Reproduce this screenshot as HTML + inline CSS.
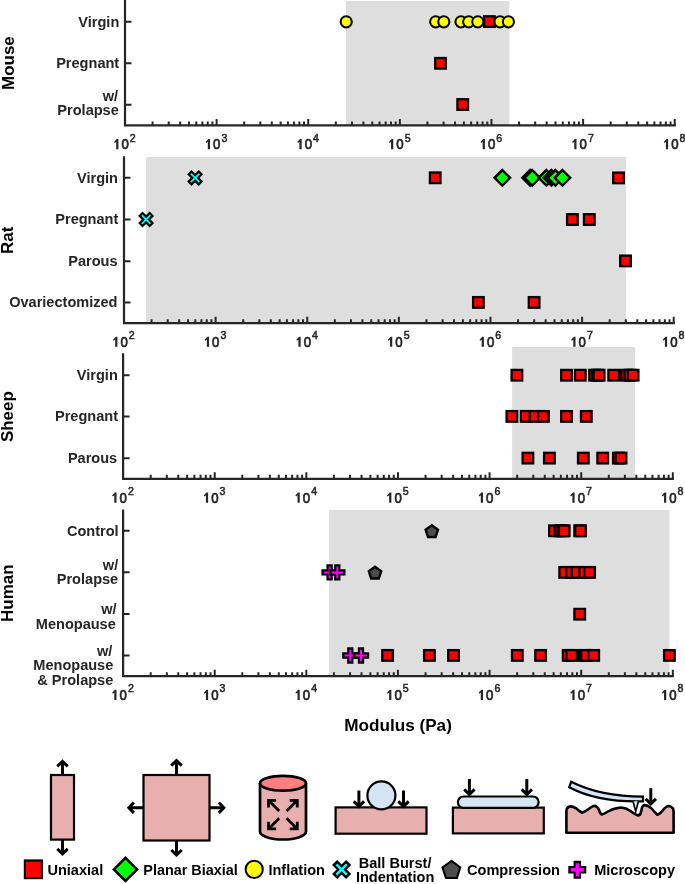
<!DOCTYPE html>
<html><head><meta charset="utf-8"><style>html,body{margin:0;padding:0;background:#fff;}svg{display:block;will-change:transform;}text{font-family:"Liberation Sans",sans-serif;}</style></head>
<body>
<svg width="685" height="884" viewBox="0 0 685 884" font-family="Liberation Sans, sans-serif">
<rect width="685" height="884" fill="#fff"/>
<rect x="346" y="1" width="163.3" height="124.4" fill="#dedede"/>
<path d="M125 0V126.5M123.9 125.4H675.82" stroke="#262626" stroke-width="2.2" fill="none"/>
<path d="M125 21.7h6.5M125 63.3h6.5M125 104.7h6.5M152.58 125.4v-4M168.71 125.4v-4M180.16 125.4v-4M189.04 125.4v-4M196.29 125.4v-4M202.43 125.4v-4M207.74 125.4v-4M212.43 125.4v-4M216.62 125.4v-6.5M244.20 125.4v-4M260.33 125.4v-4M271.78 125.4v-4M280.66 125.4v-4M287.91 125.4v-4M294.05 125.4v-4M299.36 125.4v-4M304.05 125.4v-4M308.24 125.4v-6.5M335.82 125.4v-4M351.95 125.4v-4M363.40 125.4v-4M372.28 125.4v-4M379.53 125.4v-4M385.67 125.4v-4M390.98 125.4v-4M395.67 125.4v-4M399.86 125.4v-6.5M427.44 125.4v-4M443.57 125.4v-4M455.02 125.4v-4M463.90 125.4v-4M471.15 125.4v-4M477.29 125.4v-4M482.60 125.4v-4M487.29 125.4v-4M491.48 125.4v-6.5M519.06 125.4v-4M535.19 125.4v-4M546.64 125.4v-4M555.52 125.4v-4M562.77 125.4v-4M568.91 125.4v-4M574.22 125.4v-4M578.91 125.4v-4M583.10 125.4v-6.5M610.68 125.4v-4M626.81 125.4v-4M638.26 125.4v-4M647.14 125.4v-4M654.39 125.4v-4M660.53 125.4v-4M665.84 125.4v-4M670.53 125.4v-4M674.72 125.4v-6.5" stroke="#262626" stroke-width="2" fill="none"/>
<polygon points="118.40,149.20 118.40,139.10 116.80,139.10 114.00,142.10 114.90,143.10 116.20,141.80 116.20,149.20" fill="#262626"/>
<text transform="translate(125.15,149.2) scale(0.88,1)" font-size="15" text-anchor="middle" fill="#262626" stroke="#262626" stroke-width="0.75">0</text>
<text transform="translate(129.80,141.70) scale(0.9,1)" font-size="11.8" text-anchor="start" fill="#262626" stroke="#262626" stroke-width="0.55">2</text>
<polygon points="210.02,149.20 210.02,139.10 208.42,139.10 205.62,142.10 206.52,143.10 207.82,141.80 207.82,149.20" fill="#262626"/>
<text transform="translate(216.77,149.2) scale(0.88,1)" font-size="15" text-anchor="middle" fill="#262626" stroke="#262626" stroke-width="0.75">0</text>
<text transform="translate(221.42,141.70) scale(0.9,1)" font-size="11.8" text-anchor="start" fill="#262626" stroke="#262626" stroke-width="0.55">3</text>
<polygon points="301.64,149.20 301.64,139.10 300.04,139.10 297.24,142.10 298.14,143.10 299.44,141.80 299.44,149.20" fill="#262626"/>
<text transform="translate(308.39,149.2) scale(0.88,1)" font-size="15" text-anchor="middle" fill="#262626" stroke="#262626" stroke-width="0.75">0</text>
<text transform="translate(313.04,141.70) scale(0.9,1)" font-size="11.8" text-anchor="start" fill="#262626" stroke="#262626" stroke-width="0.55">4</text>
<polygon points="393.26,149.20 393.26,139.10 391.66,139.10 388.86,142.10 389.76,143.10 391.06,141.80 391.06,149.20" fill="#262626"/>
<text transform="translate(400.01,149.2) scale(0.88,1)" font-size="15" text-anchor="middle" fill="#262626" stroke="#262626" stroke-width="0.75">0</text>
<text transform="translate(404.66,141.70) scale(0.9,1)" font-size="11.8" text-anchor="start" fill="#262626" stroke="#262626" stroke-width="0.55">5</text>
<polygon points="484.88,149.20 484.88,139.10 483.28,139.10 480.48,142.10 481.38,143.10 482.68,141.80 482.68,149.20" fill="#262626"/>
<text transform="translate(491.63,149.2) scale(0.88,1)" font-size="15" text-anchor="middle" fill="#262626" stroke="#262626" stroke-width="0.75">0</text>
<text transform="translate(496.28,141.70) scale(0.9,1)" font-size="11.8" text-anchor="start" fill="#262626" stroke="#262626" stroke-width="0.55">6</text>
<polygon points="576.50,149.20 576.50,139.10 574.90,139.10 572.10,142.10 573.00,143.10 574.30,141.80 574.30,149.20" fill="#262626"/>
<text transform="translate(583.25,149.2) scale(0.88,1)" font-size="15" text-anchor="middle" fill="#262626" stroke="#262626" stroke-width="0.75">0</text>
<text transform="translate(587.90,141.70) scale(0.9,1)" font-size="11.8" text-anchor="start" fill="#262626" stroke="#262626" stroke-width="0.55">7</text>
<polygon points="668.12,149.20 668.12,139.10 666.52,139.10 663.72,142.10 664.62,143.10 665.92,141.80 665.92,149.20" fill="#262626"/>
<text transform="translate(674.87,149.2) scale(0.88,1)" font-size="15" text-anchor="middle" fill="#262626" stroke="#262626" stroke-width="0.75">0</text>
<text transform="translate(679.52,141.70) scale(0.9,1)" font-size="11.8" text-anchor="start" fill="#262626" stroke="#262626" stroke-width="0.55">8</text>
<text transform="translate(119.3,26.8) scale(1.04,1)" font-size="14" text-anchor="end" font-weight="bold" fill="#262626" >Virgin</text>
<text transform="translate(119.2,68.2) scale(1.04,1)" font-size="14" text-anchor="end" font-weight="bold" fill="#262626" >Pregnant</text>
<text transform="translate(118.0,101.0) scale(1.04,1)" font-size="14" text-anchor="end" font-weight="bold" fill="#262626" >w/</text>
<text transform="translate(118.8,114.8) scale(1.04,1)" font-size="14" text-anchor="end" font-weight="bold" fill="#262626" >Prolapse</text>
<text transform="translate(14.2,63.1) rotate(-90)" font-size="17" text-anchor="middle" font-weight="bold" fill="#000">Mouse</text>
<circle cx="346.20" cy="21.85" r="5.6" fill="#ffff00" stroke="#000" stroke-width="2.05"/>
<circle cx="435.70" cy="21.85" r="5.6" fill="#ffff00" stroke="#000" stroke-width="2.05"/>
<circle cx="443.80" cy="21.85" r="5.6" fill="#ffff00" stroke="#000" stroke-width="2.05"/>
<circle cx="461.00" cy="21.85" r="5.6" fill="#ffff00" stroke="#000" stroke-width="2.05"/>
<circle cx="468.70" cy="21.85" r="5.6" fill="#ffff00" stroke="#000" stroke-width="2.05"/>
<circle cx="477.80" cy="21.85" r="5.6" fill="#ffff00" stroke="#000" stroke-width="2.05"/>
<rect x="484.10" y="16.30" width="10.6" height="10.6" fill="#ff0000" stroke="#000" stroke-width="2.3"/>
<circle cx="500.00" cy="21.85" r="5.6" fill="#ffff00" stroke="#000" stroke-width="2.05"/>
<circle cx="508.40" cy="21.85" r="5.6" fill="#ffff00" stroke="#000" stroke-width="2.05"/>
<rect x="435.20" y="58.00" width="10.6" height="10.6" fill="#ff0000" stroke="#000" stroke-width="2.3"/>
<rect x="457.40" y="99.20" width="10.6" height="10.6" fill="#ff0000" stroke="#000" stroke-width="2.3"/>
<rect x="146" y="157" width="479.9" height="166.2" fill="#dedede"/>
<path d="M124 156.3V324.3M122.9 323.2H674.82" stroke="#262626" stroke-width="2.2" fill="none"/>
<path d="M124 177.8h6.5M124 219.5h6.5M124 261.2h6.5M124 302.4h6.5M151.58 323.2v-4M167.71 323.2v-4M179.16 323.2v-4M188.04 323.2v-4M195.29 323.2v-4M201.43 323.2v-4M206.74 323.2v-4M211.43 323.2v-4M215.62 323.2v-6.5M243.20 323.2v-4M259.33 323.2v-4M270.78 323.2v-4M279.66 323.2v-4M286.91 323.2v-4M293.05 323.2v-4M298.36 323.2v-4M303.05 323.2v-4M307.24 323.2v-6.5M334.82 323.2v-4M350.95 323.2v-4M362.40 323.2v-4M371.28 323.2v-4M378.53 323.2v-4M384.67 323.2v-4M389.98 323.2v-4M394.67 323.2v-4M398.86 323.2v-6.5M426.44 323.2v-4M442.57 323.2v-4M454.02 323.2v-4M462.90 323.2v-4M470.15 323.2v-4M476.29 323.2v-4M481.60 323.2v-4M486.29 323.2v-4M490.48 323.2v-6.5M518.06 323.2v-4M534.19 323.2v-4M545.64 323.2v-4M554.52 323.2v-4M561.77 323.2v-4M567.91 323.2v-4M573.22 323.2v-4M577.91 323.2v-4M582.10 323.2v-6.5M609.68 323.2v-4M625.81 323.2v-4M637.26 323.2v-4M646.14 323.2v-4M653.39 323.2v-4M659.53 323.2v-4M664.84 323.2v-4M669.53 323.2v-4M673.72 323.2v-6.5" stroke="#262626" stroke-width="2" fill="none"/>
<polygon points="117.40,346.80 117.40,336.70 115.80,336.70 113.00,339.70 113.90,340.70 115.20,339.40 115.20,346.80" fill="#262626"/>
<text transform="translate(124.15,346.8) scale(0.88,1)" font-size="15" text-anchor="middle" fill="#262626" stroke="#262626" stroke-width="0.75">0</text>
<text transform="translate(128.80,339.30) scale(0.9,1)" font-size="11.8" text-anchor="start" fill="#262626" stroke="#262626" stroke-width="0.55">2</text>
<polygon points="209.02,346.80 209.02,336.70 207.42,336.70 204.62,339.70 205.52,340.70 206.82,339.40 206.82,346.80" fill="#262626"/>
<text transform="translate(215.77,346.8) scale(0.88,1)" font-size="15" text-anchor="middle" fill="#262626" stroke="#262626" stroke-width="0.75">0</text>
<text transform="translate(220.42,339.30) scale(0.9,1)" font-size="11.8" text-anchor="start" fill="#262626" stroke="#262626" stroke-width="0.55">3</text>
<polygon points="300.64,346.80 300.64,336.70 299.04,336.70 296.24,339.70 297.14,340.70 298.44,339.40 298.44,346.80" fill="#262626"/>
<text transform="translate(307.39,346.8) scale(0.88,1)" font-size="15" text-anchor="middle" fill="#262626" stroke="#262626" stroke-width="0.75">0</text>
<text transform="translate(312.04,339.30) scale(0.9,1)" font-size="11.8" text-anchor="start" fill="#262626" stroke="#262626" stroke-width="0.55">4</text>
<polygon points="392.26,346.80 392.26,336.70 390.66,336.70 387.86,339.70 388.76,340.70 390.06,339.40 390.06,346.80" fill="#262626"/>
<text transform="translate(399.01,346.8) scale(0.88,1)" font-size="15" text-anchor="middle" fill="#262626" stroke="#262626" stroke-width="0.75">0</text>
<text transform="translate(403.66,339.30) scale(0.9,1)" font-size="11.8" text-anchor="start" fill="#262626" stroke="#262626" stroke-width="0.55">5</text>
<polygon points="483.88,346.80 483.88,336.70 482.28,336.70 479.48,339.70 480.38,340.70 481.68,339.40 481.68,346.80" fill="#262626"/>
<text transform="translate(490.63,346.8) scale(0.88,1)" font-size="15" text-anchor="middle" fill="#262626" stroke="#262626" stroke-width="0.75">0</text>
<text transform="translate(495.28,339.30) scale(0.9,1)" font-size="11.8" text-anchor="start" fill="#262626" stroke="#262626" stroke-width="0.55">6</text>
<polygon points="575.50,346.80 575.50,336.70 573.90,336.70 571.10,339.70 572.00,340.70 573.30,339.40 573.30,346.80" fill="#262626"/>
<text transform="translate(582.25,346.8) scale(0.88,1)" font-size="15" text-anchor="middle" fill="#262626" stroke="#262626" stroke-width="0.75">0</text>
<text transform="translate(586.90,339.30) scale(0.9,1)" font-size="11.8" text-anchor="start" fill="#262626" stroke="#262626" stroke-width="0.55">7</text>
<polygon points="667.12,346.80 667.12,336.70 665.52,336.70 662.72,339.70 663.62,340.70 664.92,339.40 664.92,346.80" fill="#262626"/>
<text transform="translate(673.87,346.8) scale(0.88,1)" font-size="15" text-anchor="middle" fill="#262626" stroke="#262626" stroke-width="0.75">0</text>
<text transform="translate(678.52,339.30) scale(0.9,1)" font-size="11.8" text-anchor="start" fill="#262626" stroke="#262626" stroke-width="0.55">8</text>
<text transform="translate(118.0,182.5) scale(1.04,1)" font-size="14" text-anchor="end" font-weight="bold" fill="#262626" >Virgin</text>
<text transform="translate(118.3,224.2) scale(1.04,1)" font-size="14" text-anchor="end" font-weight="bold" fill="#262626" >Pregnant</text>
<text transform="translate(117.6,266) scale(1.04,1)" font-size="14" text-anchor="end" font-weight="bold" fill="#262626" >Parous</text>
<text transform="translate(117.5,307.4) scale(1.04,1)" font-size="14" text-anchor="end" font-weight="bold" fill="#262626" >Ovariectomized</text>
<text transform="translate(13.0,240.4) rotate(-90)" font-size="17" text-anchor="middle" font-weight="bold" fill="#000">Rat</text>
<path d="M189.30 172.10L200.90 183.70M200.90 172.10L189.30 183.70" stroke="#000" stroke-width="6.2"/>
<path d="M190.80 173.60L199.40 182.20M199.40 173.60L190.80 182.20" stroke="#00ffff" stroke-width="1.7"/>
<path d="M140.30 213.70L151.90 225.30M151.90 213.70L140.30 225.30" stroke="#000" stroke-width="6.2"/>
<path d="M141.80 215.20L150.40 223.80M150.40 215.20L141.80 223.80" stroke="#00ffff" stroke-width="1.7"/>
<rect x="429.90" y="172.50" width="10.6" height="10.6" fill="#ff0000" stroke="#000" stroke-width="2.3"/>
<polygon points="502.30,170.05 510.05,177.80 502.30,185.55 494.55,177.80" fill="#00ff00" stroke="#000" stroke-width="2.45" stroke-linejoin="miter"/>
<polygon points="530.10,170.05 537.85,177.80 530.10,185.55 522.35,177.80" fill="#00ff00" stroke="#000" stroke-width="2.45" stroke-linejoin="miter"/>
<polygon points="532.20,170.05 539.95,177.80 532.20,185.55 524.45,177.80" fill="#00ff00" stroke="#000" stroke-width="2.45" stroke-linejoin="miter"/>
<polygon points="546.40,170.05 554.15,177.80 546.40,185.55 538.65,177.80" fill="#00ff00" stroke="#000" stroke-width="2.45" stroke-linejoin="miter"/>
<polygon points="551.40,170.05 559.15,177.80 551.40,185.55 543.65,177.80" fill="#0a000a" stroke="#000" stroke-width="2.45" stroke-linejoin="miter"/>
<polygon points="555.40,170.05 563.15,177.80 555.40,185.55 547.65,177.80" fill="#00ff00" stroke="#000" stroke-width="2.45" stroke-linejoin="miter"/>
<polygon points="562.40,170.05 570.15,177.80 562.40,185.55 554.65,177.80" fill="#00ff00" stroke="#000" stroke-width="2.45" stroke-linejoin="miter"/>
<rect x="613.20" y="172.60" width="10.6" height="10.6" fill="#ff0000" stroke="#000" stroke-width="2.3"/>
<rect x="567.10" y="214.20" width="10.6" height="10.6" fill="#ff0000" stroke="#000" stroke-width="2.3"/>
<rect x="584.00" y="214.20" width="10.6" height="10.6" fill="#ff0000" stroke="#000" stroke-width="2.3"/>
<rect x="620.20" y="255.60" width="10.6" height="10.6" fill="#ff0000" stroke="#000" stroke-width="2.3"/>
<rect x="473.10" y="297.10" width="10.6" height="10.6" fill="#ff0000" stroke="#000" stroke-width="2.3"/>
<rect x="528.80" y="297.10" width="10.6" height="10.6" fill="#ff0000" stroke="#000" stroke-width="2.3"/>
<rect x="512.1" y="347" width="123.0" height="131.8" fill="#dedede"/>
<path d="M123.1 353.3V479.90000000000003M122.0 478.8H673.9200000000001" stroke="#262626" stroke-width="2.2" fill="none"/>
<path d="M123.1 375.2h6.5M123.1 416.4h6.5M123.1 458.2h6.5M150.68 478.8v-4M166.81 478.8v-4M178.26 478.8v-4M187.14 478.8v-4M194.39 478.8v-4M200.53 478.8v-4M205.84 478.8v-4M210.53 478.8v-4M214.72 478.8v-6.5M242.30 478.8v-4M258.43 478.8v-4M269.88 478.8v-4M278.76 478.8v-4M286.01 478.8v-4M292.15 478.8v-4M297.46 478.8v-4M302.15 478.8v-4M306.34 478.8v-6.5M333.92 478.8v-4M350.05 478.8v-4M361.50 478.8v-4M370.38 478.8v-4M377.63 478.8v-4M383.77 478.8v-4M389.08 478.8v-4M393.77 478.8v-4M397.96 478.8v-6.5M425.54 478.8v-4M441.67 478.8v-4M453.12 478.8v-4M462.00 478.8v-4M469.25 478.8v-4M475.39 478.8v-4M480.70 478.8v-4M485.39 478.8v-4M489.58 478.8v-6.5M517.16 478.8v-4M533.29 478.8v-4M544.74 478.8v-4M553.62 478.8v-4M560.87 478.8v-4M567.01 478.8v-4M572.32 478.8v-4M577.01 478.8v-4M581.20 478.8v-6.5M608.78 478.8v-4M624.91 478.8v-4M636.36 478.8v-4M645.24 478.8v-4M652.49 478.8v-4M658.63 478.8v-4M663.94 478.8v-4M668.63 478.8v-4M672.82 478.8v-6.5" stroke="#262626" stroke-width="2" fill="none"/>
<polygon points="116.50,502.70 116.50,492.60 114.90,492.60 112.10,495.60 113.00,496.60 114.30,495.30 114.30,502.70" fill="#262626"/>
<text transform="translate(123.25,502.7) scale(0.88,1)" font-size="15" text-anchor="middle" fill="#262626" stroke="#262626" stroke-width="0.75">0</text>
<text transform="translate(127.90,495.20) scale(0.9,1)" font-size="11.8" text-anchor="start" fill="#262626" stroke="#262626" stroke-width="0.55">2</text>
<polygon points="208.12,502.70 208.12,492.60 206.52,492.60 203.72,495.60 204.62,496.60 205.92,495.30 205.92,502.70" fill="#262626"/>
<text transform="translate(214.87,502.7) scale(0.88,1)" font-size="15" text-anchor="middle" fill="#262626" stroke="#262626" stroke-width="0.75">0</text>
<text transform="translate(219.52,495.20) scale(0.9,1)" font-size="11.8" text-anchor="start" fill="#262626" stroke="#262626" stroke-width="0.55">3</text>
<polygon points="299.74,502.70 299.74,492.60 298.14,492.60 295.34,495.60 296.24,496.60 297.54,495.30 297.54,502.70" fill="#262626"/>
<text transform="translate(306.49,502.7) scale(0.88,1)" font-size="15" text-anchor="middle" fill="#262626" stroke="#262626" stroke-width="0.75">0</text>
<text transform="translate(311.14,495.20) scale(0.9,1)" font-size="11.8" text-anchor="start" fill="#262626" stroke="#262626" stroke-width="0.55">4</text>
<polygon points="391.36,502.70 391.36,492.60 389.76,492.60 386.96,495.60 387.86,496.60 389.16,495.30 389.16,502.70" fill="#262626"/>
<text transform="translate(398.11,502.7) scale(0.88,1)" font-size="15" text-anchor="middle" fill="#262626" stroke="#262626" stroke-width="0.75">0</text>
<text transform="translate(402.76,495.20) scale(0.9,1)" font-size="11.8" text-anchor="start" fill="#262626" stroke="#262626" stroke-width="0.55">5</text>
<polygon points="482.98,502.70 482.98,492.60 481.38,492.60 478.58,495.60 479.48,496.60 480.78,495.30 480.78,502.70" fill="#262626"/>
<text transform="translate(489.73,502.7) scale(0.88,1)" font-size="15" text-anchor="middle" fill="#262626" stroke="#262626" stroke-width="0.75">0</text>
<text transform="translate(494.38,495.20) scale(0.9,1)" font-size="11.8" text-anchor="start" fill="#262626" stroke="#262626" stroke-width="0.55">6</text>
<polygon points="574.60,502.70 574.60,492.60 573.00,492.60 570.20,495.60 571.10,496.60 572.40,495.30 572.40,502.70" fill="#262626"/>
<text transform="translate(581.35,502.7) scale(0.88,1)" font-size="15" text-anchor="middle" fill="#262626" stroke="#262626" stroke-width="0.75">0</text>
<text transform="translate(586.00,495.20) scale(0.9,1)" font-size="11.8" text-anchor="start" fill="#262626" stroke="#262626" stroke-width="0.55">7</text>
<polygon points="666.22,502.70 666.22,492.60 664.62,492.60 661.82,495.60 662.72,496.60 664.02,495.30 664.02,502.70" fill="#262626"/>
<text transform="translate(672.97,502.7) scale(0.88,1)" font-size="15" text-anchor="middle" fill="#262626" stroke="#262626" stroke-width="0.75">0</text>
<text transform="translate(677.62,495.20) scale(0.9,1)" font-size="11.8" text-anchor="start" fill="#262626" stroke="#262626" stroke-width="0.55">8</text>
<text transform="translate(117.8,380.0) scale(1.04,1)" font-size="14" text-anchor="end" font-weight="bold" fill="#262626" >Virgin</text>
<text transform="translate(118.0,421.4) scale(1.04,1)" font-size="14" text-anchor="end" font-weight="bold" fill="#262626" >Pregnant</text>
<text transform="translate(117.2,463.2) scale(1.04,1)" font-size="14" text-anchor="end" font-weight="bold" fill="#262626" >Parous</text>
<text transform="translate(12.7,416.6) rotate(-90)" font-size="17" text-anchor="middle" font-weight="bold" fill="#000">Sheep</text>
<rect x="511.60" y="369.90" width="10.6" height="10.6" fill="#ff0000" stroke="#000" stroke-width="2.3"/>
<rect x="561.20" y="369.90" width="10.6" height="10.6" fill="#ff0000" stroke="#000" stroke-width="2.3"/>
<rect x="575.00" y="369.90" width="10.6" height="10.6" fill="#ff0000" stroke="#000" stroke-width="2.3"/>
<rect x="589.30" y="369.90" width="10.6" height="10.6" fill="#ff0000" stroke="#000" stroke-width="2.3"/>
<rect x="592.00" y="369.90" width="10.6" height="10.6" fill="#ff0000" stroke="#000" stroke-width="2.3"/>
<rect x="593.80" y="369.90" width="10.6" height="10.6" fill="#ff0000" stroke="#000" stroke-width="2.3"/>
<rect x="608.40" y="369.90" width="10.6" height="10.6" fill="#ff0000" stroke="#000" stroke-width="2.3"/>
<rect x="621.20" y="369.90" width="10.6" height="10.6" fill="#ff0000" stroke="#000" stroke-width="2.3"/>
<rect x="624.50" y="369.90" width="10.6" height="10.6" fill="#ff0000" stroke="#000" stroke-width="2.3"/>
<rect x="627.80" y="369.90" width="10.6" height="10.6" fill="#ff0000" stroke="#000" stroke-width="2.3"/>
<rect x="506.60" y="411.10" width="10.6" height="10.6" fill="#ff0000" stroke="#000" stroke-width="2.3"/>
<rect x="520.90" y="411.10" width="10.6" height="10.6" fill="#ff0000" stroke="#000" stroke-width="2.3"/>
<rect x="529.70" y="411.10" width="10.6" height="10.6" fill="#ff0000" stroke="#000" stroke-width="2.3"/>
<rect x="538.10" y="411.10" width="10.6" height="10.6" fill="#ff0000" stroke="#000" stroke-width="2.3"/>
<rect x="561.20" y="411.10" width="10.6" height="10.6" fill="#ff0000" stroke="#000" stroke-width="2.3"/>
<rect x="581.00" y="411.10" width="10.6" height="10.6" fill="#ff0000" stroke="#000" stroke-width="2.3"/>
<rect x="522.60" y="452.80" width="10.6" height="10.6" fill="#ff0000" stroke="#000" stroke-width="2.3"/>
<rect x="544.10" y="452.80" width="10.6" height="10.6" fill="#ff0000" stroke="#000" stroke-width="2.3"/>
<rect x="578.00" y="452.80" width="10.6" height="10.6" fill="#ff0000" stroke="#000" stroke-width="2.3"/>
<rect x="597.40" y="452.80" width="10.6" height="10.6" fill="#ff0000" stroke="#000" stroke-width="2.3"/>
<rect x="613.10" y="452.80" width="10.6" height="10.6" fill="#ff0000" stroke="#000" stroke-width="2.3"/>
<rect x="615.70" y="452.80" width="10.6" height="10.6" fill="#ff0000" stroke="#000" stroke-width="2.3"/>
<rect x="329.1" y="510" width="340.19999999999993" height="166.20000000000005" fill="#dedede"/>
<path d="M123.1 509.5V677.3000000000001M122.0 676.2H673.9200000000001" stroke="#262626" stroke-width="2.2" fill="none"/>
<path d="M123.1 530.8h6.5M123.1 572.2h6.5M123.1 614h6.5M123.1 655.4h6.5M150.68 676.2v-4M166.81 676.2v-4M178.26 676.2v-4M187.14 676.2v-4M194.39 676.2v-4M200.53 676.2v-4M205.84 676.2v-4M210.53 676.2v-4M214.72 676.2v-6.5M242.30 676.2v-4M258.43 676.2v-4M269.88 676.2v-4M278.76 676.2v-4M286.01 676.2v-4M292.15 676.2v-4M297.46 676.2v-4M302.15 676.2v-4M306.34 676.2v-6.5M333.92 676.2v-4M350.05 676.2v-4M361.50 676.2v-4M370.38 676.2v-4M377.63 676.2v-4M383.77 676.2v-4M389.08 676.2v-4M393.77 676.2v-4M397.96 676.2v-6.5M425.54 676.2v-4M441.67 676.2v-4M453.12 676.2v-4M462.00 676.2v-4M469.25 676.2v-4M475.39 676.2v-4M480.70 676.2v-4M485.39 676.2v-4M489.58 676.2v-6.5M517.16 676.2v-4M533.29 676.2v-4M544.74 676.2v-4M553.62 676.2v-4M560.87 676.2v-4M567.01 676.2v-4M572.32 676.2v-4M577.01 676.2v-4M581.20 676.2v-6.5M608.78 676.2v-4M624.91 676.2v-4M636.36 676.2v-4M645.24 676.2v-4M652.49 676.2v-4M658.63 676.2v-4M663.94 676.2v-4M668.63 676.2v-4M672.82 676.2v-6.5" stroke="#262626" stroke-width="2" fill="none"/>
<polygon points="116.50,699.90 116.50,689.80 114.90,689.80 112.10,692.80 113.00,693.80 114.30,692.50 114.30,699.90" fill="#262626"/>
<text transform="translate(123.25,699.9) scale(0.88,1)" font-size="15" text-anchor="middle" fill="#262626" stroke="#262626" stroke-width="0.75">0</text>
<text transform="translate(127.90,692.40) scale(0.9,1)" font-size="11.8" text-anchor="start" fill="#262626" stroke="#262626" stroke-width="0.55">2</text>
<polygon points="208.12,699.90 208.12,689.80 206.52,689.80 203.72,692.80 204.62,693.80 205.92,692.50 205.92,699.90" fill="#262626"/>
<text transform="translate(214.87,699.9) scale(0.88,1)" font-size="15" text-anchor="middle" fill="#262626" stroke="#262626" stroke-width="0.75">0</text>
<text transform="translate(219.52,692.40) scale(0.9,1)" font-size="11.8" text-anchor="start" fill="#262626" stroke="#262626" stroke-width="0.55">3</text>
<polygon points="299.74,699.90 299.74,689.80 298.14,689.80 295.34,692.80 296.24,693.80 297.54,692.50 297.54,699.90" fill="#262626"/>
<text transform="translate(306.49,699.9) scale(0.88,1)" font-size="15" text-anchor="middle" fill="#262626" stroke="#262626" stroke-width="0.75">0</text>
<text transform="translate(311.14,692.40) scale(0.9,1)" font-size="11.8" text-anchor="start" fill="#262626" stroke="#262626" stroke-width="0.55">4</text>
<polygon points="391.36,699.90 391.36,689.80 389.76,689.80 386.96,692.80 387.86,693.80 389.16,692.50 389.16,699.90" fill="#262626"/>
<text transform="translate(398.11,699.9) scale(0.88,1)" font-size="15" text-anchor="middle" fill="#262626" stroke="#262626" stroke-width="0.75">0</text>
<text transform="translate(402.76,692.40) scale(0.9,1)" font-size="11.8" text-anchor="start" fill="#262626" stroke="#262626" stroke-width="0.55">5</text>
<polygon points="482.98,699.90 482.98,689.80 481.38,689.80 478.58,692.80 479.48,693.80 480.78,692.50 480.78,699.90" fill="#262626"/>
<text transform="translate(489.73,699.9) scale(0.88,1)" font-size="15" text-anchor="middle" fill="#262626" stroke="#262626" stroke-width="0.75">0</text>
<text transform="translate(494.38,692.40) scale(0.9,1)" font-size="11.8" text-anchor="start" fill="#262626" stroke="#262626" stroke-width="0.55">6</text>
<polygon points="574.60,699.90 574.60,689.80 573.00,689.80 570.20,692.80 571.10,693.80 572.40,692.50 572.40,699.90" fill="#262626"/>
<text transform="translate(581.35,699.9) scale(0.88,1)" font-size="15" text-anchor="middle" fill="#262626" stroke="#262626" stroke-width="0.75">0</text>
<text transform="translate(586.00,692.40) scale(0.9,1)" font-size="11.8" text-anchor="start" fill="#262626" stroke="#262626" stroke-width="0.55">7</text>
<polygon points="666.22,699.90 666.22,689.80 664.62,689.80 661.82,692.80 662.72,693.80 664.02,692.50 664.02,699.90" fill="#262626"/>
<text transform="translate(672.97,699.9) scale(0.88,1)" font-size="15" text-anchor="middle" fill="#262626" stroke="#262626" stroke-width="0.75">0</text>
<text transform="translate(677.62,692.40) scale(0.9,1)" font-size="11.8" text-anchor="start" fill="#262626" stroke="#262626" stroke-width="0.55">8</text>
<text transform="translate(118.6,535.9) scale(1.04,1)" font-size="14" text-anchor="end" font-weight="bold" fill="#262626" >Control</text>
<text transform="translate(118.2,569.6) scale(1.04,1)" font-size="14" text-anchor="end" font-weight="bold" fill="#262626" >w/</text>
<text transform="translate(118.2,583.5) scale(1.04,1)" font-size="14" text-anchor="end" font-weight="bold" fill="#262626" >Prolapse</text>
<text transform="translate(116.5,614.3) scale(1.04,1)" font-size="14" text-anchor="end" font-weight="bold" fill="#262626" >w/</text>
<text transform="translate(115.8,628.8) scale(1.04,1)" font-size="14" text-anchor="end" font-weight="bold" fill="#262626" >Menopause</text>
<text transform="translate(112.4,656.2) scale(1.04,1)" font-size="14" text-anchor="end" font-weight="bold" fill="#262626" >w/</text>
<text transform="translate(113.3,670.1) scale(1.04,1)" font-size="14" text-anchor="end" font-weight="bold" fill="#262626" >Menopause</text>
<text transform="translate(113.3,685) scale(1.04,1)" font-size="14" text-anchor="end" font-weight="bold" fill="#262626" >&amp; Prolapse</text>
<text transform="translate(12.7,593.2) rotate(-90)" font-size="17" text-anchor="middle" font-weight="bold" fill="#000">Human</text>
<polygon points="431.80,525.20 437.98,529.69 435.62,536.96 427.98,536.96 425.62,529.69" fill="#4d4d4d" stroke="#000" stroke-width="2.4" stroke-linejoin="miter"/>
<rect x="549.15" y="525.50" width="10.6" height="10.6" fill="#ff0000" stroke="#000" stroke-width="2.3"/>
<rect x="554.60" y="525.50" width="10.6" height="10.6" fill="#ff0000" stroke="#000" stroke-width="2.3"/>
<rect x="557.60" y="525.50" width="10.6" height="10.6" fill="#ff0000" stroke="#000" stroke-width="2.3"/>
<rect x="558.90" y="525.50" width="10.6" height="10.6" fill="#ff0000" stroke="#000" stroke-width="2.3"/>
<rect x="574.40" y="525.50" width="10.6" height="10.6" fill="#ff0000" stroke="#000" stroke-width="2.3"/>
<rect x="575.20" y="525.50" width="10.6" height="10.6" fill="#ff0000" stroke="#000" stroke-width="2.3"/>
<path d="M321.40 572.40H337.80M329.60 564.20V580.60" stroke="#000" stroke-width="6.3"/>
<path d="M323.80 572.40H335.40M329.60 566.60V578.20" stroke="#ff00ff" stroke-width="2"/>
<path d="M329.10 572.40H345.50M337.30 564.20V580.60" stroke="#000" stroke-width="6.3"/>
<path d="M331.50 572.40H343.10M337.30 566.60V578.20" stroke="#ff00ff" stroke-width="2"/>
<polygon points="375.00,566.80 381.18,571.29 378.82,578.56 371.18,578.56 368.82,571.29" fill="#4d4d4d" stroke="#000" stroke-width="2.4" stroke-linejoin="miter"/>
<rect x="559.40" y="567.10" width="10.6" height="10.6" fill="#ff0000" stroke="#000" stroke-width="2.3"/>
<rect x="566.20" y="567.10" width="10.6" height="10.6" fill="#ff0000" stroke="#000" stroke-width="2.3"/>
<rect x="571.70" y="567.10" width="10.6" height="10.6" fill="#ff0000" stroke="#000" stroke-width="2.3"/>
<rect x="579.30" y="567.10" width="10.6" height="10.6" fill="#ff0000" stroke="#000" stroke-width="2.3"/>
<rect x="584.30" y="567.10" width="10.6" height="10.6" fill="#ff0000" stroke="#000" stroke-width="2.3"/>
<rect x="574.40" y="608.90" width="10.6" height="10.6" fill="#ff0000" stroke="#000" stroke-width="2.3"/>
<path d="M342.10 655.50H358.50M350.30 647.30V663.70" stroke="#000" stroke-width="6.3"/>
<path d="M344.50 655.50H356.10M350.30 649.70V661.30" stroke="#ff00ff" stroke-width="2"/>
<path d="M352.80 655.50H369.20M361.00 647.30V663.70" stroke="#000" stroke-width="6.3"/>
<path d="M355.20 655.50H366.80M361.00 649.70V661.30" stroke="#ff00ff" stroke-width="2"/>
<rect x="382.30" y="650.10" width="10.6" height="10.6" fill="#ff0000" stroke="#000" stroke-width="2.3"/>
<rect x="424.10" y="650.10" width="10.6" height="10.6" fill="#ff0000" stroke="#000" stroke-width="2.3"/>
<rect x="448.20" y="650.10" width="10.6" height="10.6" fill="#ff0000" stroke="#000" stroke-width="2.3"/>
<rect x="512.00" y="650.10" width="10.6" height="10.6" fill="#ff0000" stroke="#000" stroke-width="2.3"/>
<rect x="535.30" y="650.10" width="10.6" height="10.6" fill="#ff0000" stroke="#000" stroke-width="2.3"/>
<rect x="562.90" y="650.10" width="10.6" height="10.6" fill="#ff0000" stroke="#000" stroke-width="2.3"/>
<rect x="566.40" y="650.10" width="10.6" height="10.6" fill="#ff0000" stroke="#000" stroke-width="2.3"/>
<rect x="578.90" y="650.10" width="10.6" height="10.6" fill="#ff0000" stroke="#000" stroke-width="2.3"/>
<rect x="581.20" y="650.10" width="10.6" height="10.6" fill="#ff0000" stroke="#000" stroke-width="2.3"/>
<rect x="588.40" y="650.10" width="10.6" height="10.6" fill="#ff0000" stroke="#000" stroke-width="2.3"/>
<rect x="664.10" y="650.10" width="10.6" height="10.6" fill="#ff0000" stroke="#000" stroke-width="2.3"/>
<text transform="translate(398,730.8) scale(1.04,1)" font-size="16.5" text-anchor="middle" font-weight="bold" fill="#000" >Modulus (Pa)</text>
<rect x="51" y="775" width="23" height="64.6" fill="#e8afaf" stroke="#000" stroke-width="2.2"/>
<path d="M62.5 775V761.5M62.5 839.6V853.3" stroke="#000" stroke-width="3"/>
<path d="M57.3 766.4L62.5 761.4L67.7 766.4" stroke="#000" stroke-width="3" fill="none" stroke-linejoin="miter"/>
<path d="M57.3 848.8L62.5 853.8L67.7 848.8" stroke="#000" stroke-width="3" fill="none" stroke-linejoin="miter"/>
<rect x="143.5" y="775" width="66" height="65.5" fill="#e8afaf" stroke="#000" stroke-width="2.2"/>
<path d="M176.5 775V760.6M176.5 840.5V855M143.5 807.7H129M209.5 807.7H224" stroke="#000" stroke-width="3"/>
<path d="M171.3 765.6L176.5 760.6L181.7 765.6" stroke="#000" stroke-width="3" fill="none" stroke-linejoin="miter"/>
<path d="M171.3 850.0L176.5 855L181.7 850.0" stroke="#000" stroke-width="3" fill="none" stroke-linejoin="miter"/>
<path d="M133.9 802.5L128.9 807.7L133.9 812.9000000000001" stroke="#000" stroke-width="3" fill="none" stroke-linejoin="miter"/>
<path d="M218.8 802.5L223.8 807.7L218.8 812.9000000000001" stroke="#000" stroke-width="3" fill="none" stroke-linejoin="miter"/>
<path d="M260 783.3V831.5A23 8 0 0 0 306 831.5V783.3" fill="#e8afaf" stroke="#000" stroke-width="2.7"/>
<ellipse cx="283" cy="783.3" rx="23" ry="7.4" fill="#ff7f7f" stroke="#000" stroke-width="2.7"/>
<path d="M268.50 807.55V800.35H276.10M268.50 800.35L279.20 810.95" stroke="#000" stroke-width="2.8" fill="none" stroke-linejoin="miter"/>
<path d="M268.50 821.75V828.95H276.10M268.50 828.95L279.20 818.35" stroke="#000" stroke-width="2.8" fill="none" stroke-linejoin="miter"/>
<path d="M297.30 807.55V800.35H289.70M297.30 800.35L286.60 810.95" stroke="#000" stroke-width="2.8" fill="none" stroke-linejoin="miter"/>
<path d="M297.30 821.75V828.95H289.70M297.30 828.95L286.60 818.35" stroke="#000" stroke-width="2.8" fill="none" stroke-linejoin="miter"/>
<rect x="335.6" y="807.4" width="90.9" height="26.3" fill="#e8afaf" stroke="#000" stroke-width="2.2"/>
<circle cx="381.4" cy="795.4" r="14" fill="#d5e5f5" stroke="#000" stroke-width="2.2"/>
<path d="M358.9 790.5V806M403.5 790.5V806" stroke="#000" stroke-width="3"/>
<path d="M353.7 801.3L358.9 806.3L364.09999999999997 801.3" stroke="#000" stroke-width="3" fill="none" stroke-linejoin="miter"/>
<path d="M398.3 801.3L403.5 806.3L408.7 801.3" stroke="#000" stroke-width="3" fill="none" stroke-linejoin="miter"/>
<rect x="452.9" y="807.6" width="90.9" height="25.8" fill="#e8afaf" stroke="#000" stroke-width="2.2"/>
<rect x="457.9" y="796.5" width="80.7" height="11.3" rx="5.6" fill="#d5e5f5" stroke="#000" stroke-width="2.2"/>
<path d="M469.4 779V794M526.8 779V794" stroke="#000" stroke-width="3"/>
<path d="M464.2 789.3L469.4 794.3L474.59999999999997 789.3" stroke="#000" stroke-width="3" fill="none" stroke-linejoin="miter"/>
<path d="M521.5999999999999 789.3L526.8 794.3L532.0 789.3" stroke="#000" stroke-width="3" fill="none" stroke-linejoin="miter"/>
<path d="M566.4 832.8V811Q566.4 807.5 569.5 806.5Q572.5 805.8 575.7 808.1Q579 811 581.9 812.7Q584.5 812 588.2 809.2Q592.5 806 595 805.8Q597.5 806.5 599 810Q600.5 814.4 602 814.4Q605 813.5 608 811.5Q614 808 621.2 807.5Q626 807.8 630.3 811Q634 813.8 638.1 815.6Q640.8 815 641.3 811Q641.8 806 644.7 805.1Q647.8 805.2 651 808Q655 812.5 657.4 814.7Q659.5 814 662 811.3Q666 806 668.8 806Q671.5 806.2 673 808.5Q673.6 810 673.6 812.5V832.8Z" fill="#e8afaf" stroke="#000" stroke-width="2.6" stroke-linejoin="round"/>
<path d="M571.2 781.8Q600 796.5 643 796.6V801.3Q598 802.5 569.2 787.2Z" fill="#d5e5f5" stroke="#000" stroke-width="2.2" stroke-linejoin="miter"/>
<path d="M633 801.3L635.7 811.5L638.5 801.3" fill="#d5e5f5" stroke="#000" stroke-width="1.6"/>
<path d="M650.8 788.2V803" stroke="#000" stroke-width="3"/>
<path d="M645.5999999999999 798.8L650.8 803.8L656.0 798.8" stroke="#000" stroke-width="3" fill="none" stroke-linejoin="miter"/>
<rect x="24.9" y="860.5" width="17" height="17.6" fill="#ff0000" stroke="#000" stroke-width="2.2"/>
<text transform="translate(47.4,874.6) scale(1.04,1)" font-size="14" text-anchor="start" font-weight="bold" fill="#000" >Uniaxial</text>
<polygon points="125.50,857.80 137.10,869.40 125.50,881.00 113.90,869.40" fill="#00ff00" stroke="#000" stroke-width="2.5" stroke-linejoin="miter"/>
<text transform="translate(143.3,874.6) scale(1.03,1)" font-size="14" text-anchor="start" font-weight="bold" fill="#000" >Planar Biaxial</text>
<circle cx="254.20" cy="869.40" r="8.6" fill="#ffff00" stroke="#000" stroke-width="2"/>
<text transform="translate(268.4,874.8) scale(1.04,1)" font-size="14" text-anchor="start" font-weight="bold" fill="#000" >Inflation</text>
<path d="M334.60 862.50L348.60 876.50M348.60 862.50L334.60 876.50" stroke="#000" stroke-width="7.2"/>
<path d="M336.40 864.30L346.80 874.70M346.80 864.30L336.40 874.70" stroke="#00ffff" stroke-width="2.6"/>
<text transform="translate(395.1,867.6) scale(1.04,1)" font-size="14" text-anchor="middle" font-weight="bold" fill="#000" >Ball Burst/</text>
<text transform="translate(395.1,881.6) scale(1.04,1)" font-size="14" text-anchor="middle" font-weight="bold" fill="#000" >Indentation</text>
<polygon points="451.40,860.90 460.34,867.40 456.93,877.90 445.87,877.90 442.46,867.40" fill="#4d4d4d" stroke="#000" stroke-width="2" stroke-linejoin="miter"/>
<text transform="translate(467,874.8) scale(1.04,1)" font-size="14" text-anchor="start" font-weight="bold" fill="#000" >Compression</text>
<path d="M568.30 869.80H586.30M577.30 860.80V878.80" stroke="#000" stroke-width="7.4"/>
<path d="M570.70 869.80H583.90M577.30 863.20V876.40" stroke="#ff00ff" stroke-width="3.4"/>
<text transform="translate(594.2,874.8) scale(1.04,1)" font-size="14" text-anchor="start" font-weight="bold" fill="#000" >Microscopy</text>
</svg>
</body></html>
